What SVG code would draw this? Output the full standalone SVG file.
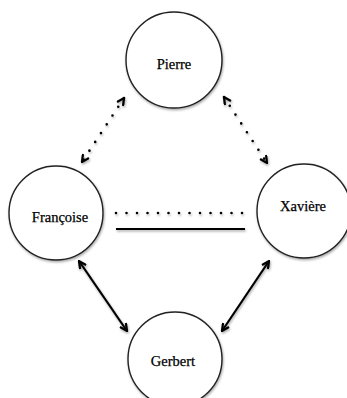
<svg xmlns="http://www.w3.org/2000/svg" width="347" height="398" viewBox="0 0 347 398">
  <defs>
    <filter id="sh" x="-20%" y="-20%" width="140%" height="140%">
      <feDropShadow dx="0.8" dy="1.5" stdDeviation="1.2" flood-color="#000" flood-opacity="0.35"/>
    </filter>
    <marker id="ah" viewBox="0 0 10 10" refX="9" refY="5" markerWidth="9" markerHeight="9" orient="auto-start-reverse" markerUnits="userSpaceOnUse">
      <path d="M1,1 L9,5 L1,9" fill="none" stroke="#000" stroke-width="2.5" stroke-linejoin="miter"/>
    </marker>
    <style>
      .node circle { fill: #fff; stroke: #222; stroke-width: 1.4; filter: url(#sh); }
      .node text { font-family: "Liberation Serif", "DejaVu Serif", serif; font-size: 14.5px; fill: #000; stroke: #000; stroke-width: 0.25; text-anchor: middle; }
      .dot { stroke: #000; stroke-width: 2.6; stroke-linecap: round; stroke-dasharray: 0 10.5; fill: none; }
      .solid { stroke: #000; stroke-width: 2.2; fill: none; }
      .arrow { marker-start: url(#ah); marker-end: url(#ah); }
    </style>
  </defs>
  <g id="connectors" filter="url(#sh)">
    <line class="dot arrow" x1="124" y1="98" x2="82" y2="162"/>
    <line class="dot arrow" x1="224" y1="97" x2="267" y2="163"/>
    <line class="dot" x1="116" y1="213" x2="245" y2="213"/>
    <line class="solid" x1="116" y1="229" x2="245" y2="229" stroke-width="3"/>
    <line class="solid arrow" x1="79" y1="261" x2="127" y2="331"/>
    <line class="solid arrow" x1="269" y1="261" x2="222" y2="331"/>
  </g>
  <g id="pierre" class="node">
    <circle cx="174" cy="60" r="48"/>
    <text x="174" y="69">Pierre</text>
  </g>
  <g id="francoise" class="node">
    <circle cx="56" cy="213" r="47"/>
    <text x="60" y="222">Françoise</text>
  </g>
  <g id="xaviere" class="node">
    <circle cx="304" cy="211" r="47"/>
    <text x="303" y="211">Xavière</text>
  </g>
  <g id="gerbert" class="node">
    <circle cx="175" cy="359" r="47"/>
    <text x="173" y="366">Gerbert</text>
  </g>
</svg>
